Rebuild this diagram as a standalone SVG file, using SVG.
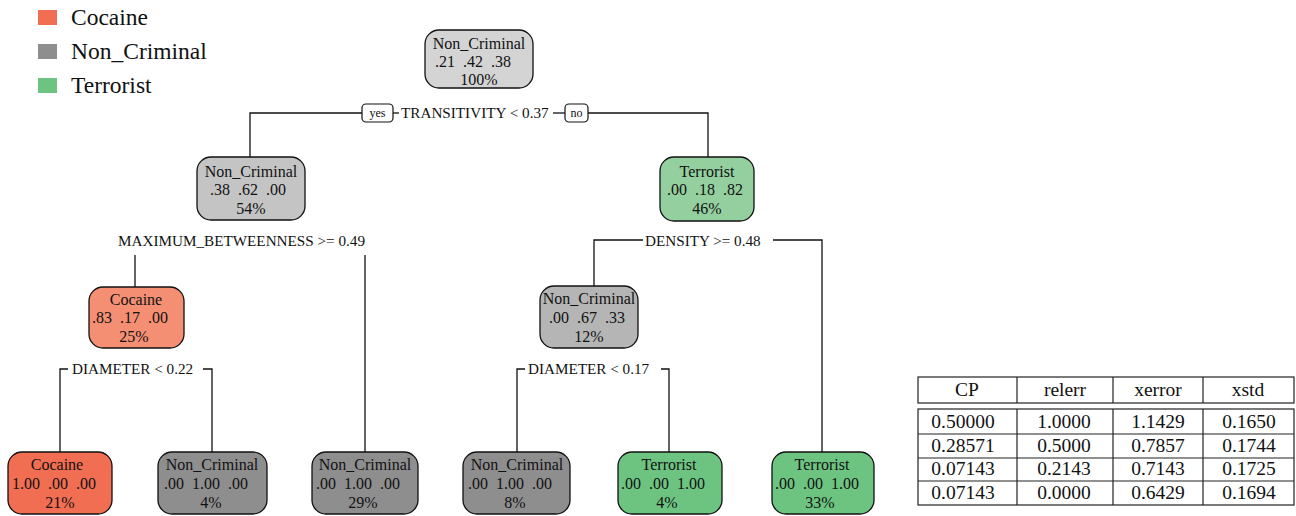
<svg xmlns="http://www.w3.org/2000/svg" width="1296" height="516" viewBox="0 0 1296 516">
<style>
text{fill:#111;font-family:'Liberation Serif','Times New Roman',serif}
.n text{font-size:16px;text-anchor:middle}
.box{stroke:#111;stroke-width:1.3}
.c line,.c polyline{stroke:#111;stroke-width:1.3;fill:none}
.lbl{font-size:15.2px}
.yn{font-size:12px;text-anchor:middle}
.leg{font-size:23.5px}
.tb{font-size:19.5px;text-anchor:middle}
.tl{stroke:#222;stroke-width:1.2;fill:none}
</style>
<rect width="1296" height="516" fill="#fff"/>
<g id="legend">
<rect x="38" y="10" width="19" height="15" fill="#F26E53"/>
<text class="leg" x="71" y="25">Cocaine</text>
<rect x="38" y="44" width="19" height="15" fill="#8E8E8E"/>
<text class="leg" x="71" y="59">Non_Criminal</text>
<rect x="38" y="78" width="19" height="15" fill="#6DC481"/>
<text class="leg" x="71" y="93">Terrorist</text>
</g>
<g id="connectors" class="c">
<polyline points="362,113 250,113 250,157"/>
<polyline points="588,113 708,113 708,157"/>
<line x1="393" y1="113" x2="399" y2="113"/>
<line x1="553" y1="113" x2="565" y2="113"/>
<polyline points="135,255 135,287"/>
<polyline points="365,255 365,452"/>
<polyline points="643,240 594,240 594,286"/>
<polyline points="773,240 822,240 822,452"/>
<polyline points="68,369 60,369 60,452"/>
<polyline points="203,369 212,369 212,452"/>
<polyline points="525,369 517,369 517,452"/>
<polyline points="661,369 669,369 669,452"/>
</g>
<g id="split-root">
<rect x="362" y="104" width="31" height="18" rx="4" fill="#fff" stroke="#111" stroke-width="1.2"/>
<text class="yn" x="377.5" y="117">yes</text>
<text class="lbl" x="401" y="118">TRANSITIVITY &lt; 0.37</text>
<rect x="565" y="104" width="23" height="18" rx="4" fill="#fff" stroke="#111" stroke-width="1.2"/>
<text class="yn" x="576.5" y="117">no</text>
</g>
<text class="lbl" x="118" y="246">MAXIMUM_BETWEENNESS &gt;= 0.49</text>
<text class="lbl" x="645" y="246">DENSITY &gt;= 0.48</text>
<text class="lbl" x="72" y="374">DIAMETER &lt; 0.22</text>
<text class="lbl" x="528" y="374">DIAMETER &lt; 0.17</text>
<g id="node-root" class="n">
<rect class="box" x="425" y="30" width="108" height="58" rx="14" fill="#D4D4D4"/>
<text x="479" y="49">Non_Criminal</text><text x="473" y="67">.21&#160; .42&#160; .38</text><text x="479" y="85">100%</text>
</g>
<g id="node-2" class="n">
<rect class="box" x="197" y="157" width="108" height="63" rx="14" fill="#C4C4C4"/>
<text x="251" y="177">Non_Criminal</text><text x="248" y="195">.38&#160; .62&#160; .00</text><text x="251" y="214">54%</text>
</g>
<g id="node-3" class="n">
<rect class="box" x="660" y="157" width="94" height="64" rx="14" fill="#94D09F"/>
<text x="707" y="177">Terrorist</text><text x="705" y="195">.00&#160; .18&#160; .82</text><text x="707" y="214">46%</text>
</g>
<g id="node-4" class="n">
<rect class="box" x="89" y="287" width="95" height="61" rx="14" fill="#F58F74"/>
<text x="136" y="305">Cocaine</text><text x="130" y="323">.83&#160; .17&#160; .00</text><text x="134" y="342">25%</text>
</g>
<g id="node-5" class="n">
<rect class="box" x="540" y="286" width="98" height="62" rx="14" fill="#B5B5B5"/>
<text x="589" y="304">Non_Criminal</text><text x="587" y="323">.00&#160; .67&#160; .33</text><text x="589" y="342">12%</text>
</g>
<g id="leaf-1" class="n">
<rect class="box" x="8" y="452" width="104" height="62" rx="14" fill="#F26E53"/>
<text x="57" y="470">Cocaine</text><text x="54" y="489">1.00&#160; .00&#160; .00</text><text x="60" y="508">21%</text>
</g>
<g id="leaf-2" class="n">
<rect class="box" x="158" y="452" width="109" height="62" rx="14" fill="#8E8E8F"/>
<text x="212" y="470">Non_Criminal</text><text x="206" y="489">.00&#160; 1.00&#160; .00</text><text x="211" y="508">4%</text>
</g>
<g id="leaf-3" class="n">
<rect class="box" x="312" y="452" width="106" height="62" rx="14" fill="#8E8E8F"/>
<text x="365" y="470">Non_Criminal</text><text x="358" y="489">.00&#160; 1.00&#160; .00</text><text x="363" y="508">29%</text>
</g>
<g id="leaf-4" class="n">
<rect class="box" x="463" y="452" width="107" height="62" rx="14" fill="#8E8E8F"/>
<text x="517" y="470">Non_Criminal</text><text x="510" y="489">.00&#160; 1.00&#160; .00</text><text x="515" y="508">8%</text>
</g>
<g id="leaf-5" class="n">
<rect class="box" x="618" y="452" width="104" height="62" rx="14" fill="#6DC481"/>
<text x="669" y="470">Terrorist</text><text x="663" y="489">.00&#160; .00&#160; 1.00</text><text x="667" y="508">4%</text>
</g>
<g id="leaf-6" class="n">
<rect class="box" x="772" y="452" width="102" height="62" rx="14" fill="#6DC481"/>
<text x="822" y="470">Terrorist</text><text x="817" y="489">.00&#160; .00&#160; 1.00</text><text x="820" y="508">33%</text>
</g>
<g id="cp-table">
<rect class="tl" x="918" y="377" width="376" height="26"/>
<rect class="tl" x="918" y="409" width="376" height="96"/>
<line class="tl" x1="1017" y1="377" x2="1017" y2="403"/><line class="tl" x1="1113" y1="377" x2="1113" y2="403"/><line class="tl" x1="1203" y1="377" x2="1203" y2="403"/>
<line class="tl" x1="1017" y1="409" x2="1017" y2="505"/><line class="tl" x1="1113" y1="409" x2="1113" y2="505"/><line class="tl" x1="1203" y1="409" x2="1203" y2="505"/>
<line class="tl" x1="918" y1="434" x2="1294" y2="434"/><line class="tl" x1="918" y1="458" x2="1294" y2="458"/><line class="tl" x1="918" y1="481" x2="1294" y2="481"/>
<text class="tb" x="967" y="396">CP</text><text class="tb" x="1065" y="396">relerr</text><text class="tb" x="1158" y="396">xerror</text><text class="tb" x="1248" y="396">xstd</text>
<text class="tb" x="963" y="428">0.50000</text><text class="tb" x="1064" y="428">1.0000</text><text class="tb" x="1158" y="428">1.1429</text><text class="tb" x="1249" y="428">0.1650</text>
<text class="tb" x="963" y="452">0.28571</text><text class="tb" x="1064" y="452">0.5000</text><text class="tb" x="1158" y="452">0.7857</text><text class="tb" x="1249" y="452">0.1744</text>
<text class="tb" x="963" y="475">0.07143</text><text class="tb" x="1064" y="475">0.2143</text><text class="tb" x="1158" y="475">0.7143</text><text class="tb" x="1249" y="475">0.1725</text>
<text class="tb" x="963" y="499">0.07143</text><text class="tb" x="1064" y="499">0.0000</text><text class="tb" x="1158" y="499">0.6429</text><text class="tb" x="1249" y="499">0.1694</text>
</g>
</svg>
